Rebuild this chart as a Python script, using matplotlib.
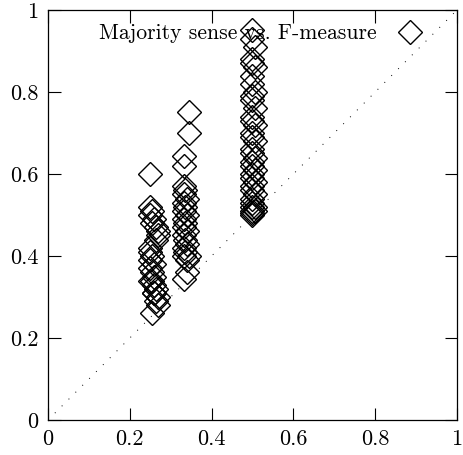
import matplotlib.pyplot as plt
from matplotlib.lines import Line2D

# Majority sense (x) vs. F-measure (y)
x_quarter = [0.25, 0.25, 0.255, 0.25, 0.26, 0.255, 0.265, 0.27, 0.27, 0.265,
             0.25, 0.25, 0.255, 0.25, 0.26, 0.25, 0.255, 0.26, 0.25, 0.26,
             0.265, 0.26, 0.27, 0.265, 0.26, 0.255, 0.27, 0.255]
y_quarter = [0.60, 0.52, 0.51, 0.50, 0.49, 0.48, 0.47, 0.46, 0.45, 0.44,
             0.42, 0.41, 0.40, 0.39, 0.38, 0.37, 0.36, 0.35, 0.34, 0.33,
             0.32, 0.31, 0.30, 0.29, 0.31, 0.34, 0.28, 0.26]

x_third = [0.345, 0.345, 0.333, 0.333, 0.333, 0.335, 0.333, 0.34, 0.333, 0.335,
           0.333, 0.34, 0.333, 0.335, 0.333, 0.34, 0.333, 0.335, 0.34, 0.333,
           0.335, 0.333, 0.34, 0.345, 0.34, 0.333]
y_third = [0.75, 0.70, 0.645, 0.62, 0.57, 0.56, 0.55, 0.54, 0.53, 0.52,
           0.51, 0.50, 0.49, 0.48, 0.47, 0.46, 0.45, 0.44, 0.43, 0.42,
           0.41, 0.40, 0.39, 0.40, 0.36, 0.345]

x_half = [0.5, 0.5, 0.505, 0.5, 0.5, 0.505, 0.5, 0.5, 0.505, 0.5,
          0.5, 0.505, 0.5, 0.5, 0.505, 0.5, 0.5, 0.505, 0.5, 0.5,
          0.505, 0.5, 0.5, 0.505, 0.5, 0.5, 0.505, 0.5, 0.5, 0.505,
          0.5, 0.5, 0.505, 0.5, 0.5, 0.505, 0.5, 0.5]
y_half = [0.95, 0.93, 0.91, 0.88, 0.87, 0.86, 0.84, 0.82, 0.80, 0.79,
          0.78, 0.76, 0.74, 0.73, 0.72, 0.70, 0.69, 0.68, 0.66, 0.65,
          0.64, 0.63, 0.62, 0.61, 0.60, 0.59, 0.58, 0.57, 0.56, 0.55,
          0.54, 0.53, 0.52, 0.52, 0.51, 0.51, 0.50, 0.505]

ticks = [0, 0.2, 0.4, 0.6, 0.8, 1]
tick_labels = ['0', '0.2', '0.4', '0.6', '0.8', '1']

plt.rcParams['font.family'] = 'cmr10'
plt.rcParams['font.size'] = 16

fig = plt.figure(figsize=(4.63, 4.55), dpi=100)
ax = fig.add_axes([48 / 463, 35 / 455, 409 / 463, 410 / 455])

xs = x_quarter + x_third + x_half
ys = y_quarter + y_third + y_half
ax.plot(xs, ys, linestyle='none', marker='D', markersize=12,
        markerfacecolor='none', markeredgecolor='black', markeredgewidth=1.0)

# y = x reference line, drawn as sparse dots
ax.plot([0, 1], [0, 1], color='black', linewidth=0.7, linestyle=(0, (1, 9)))

ax.set_xlim(0, 1)
ax.set_ylim(0, 1)
ax.set_xticks(ticks)
ax.set_xticklabels(tick_labels)
ax.set_yticks(ticks)
ax.set_yticklabels(tick_labels)
ax.tick_params(direction='in', length=9, width=0.8, top=True, right=True, pad=7)
for s in ax.spines.values():
    s.set_linewidth(0.9)

handle = Line2D([], [], linestyle='none', marker='D', markersize=12,
                markerfacecolor='none', markeredgecolor='black')
ax.legend([handle], ['Majority sense vs. F-measure'], loc='upper right',
          bbox_to_anchor=(0.959, 0.988), markerfirst=False, frameon=False,
          handletextpad=0.55, borderaxespad=0, fontsize=15.6)

fig.savefig('out.png', dpi=100)
